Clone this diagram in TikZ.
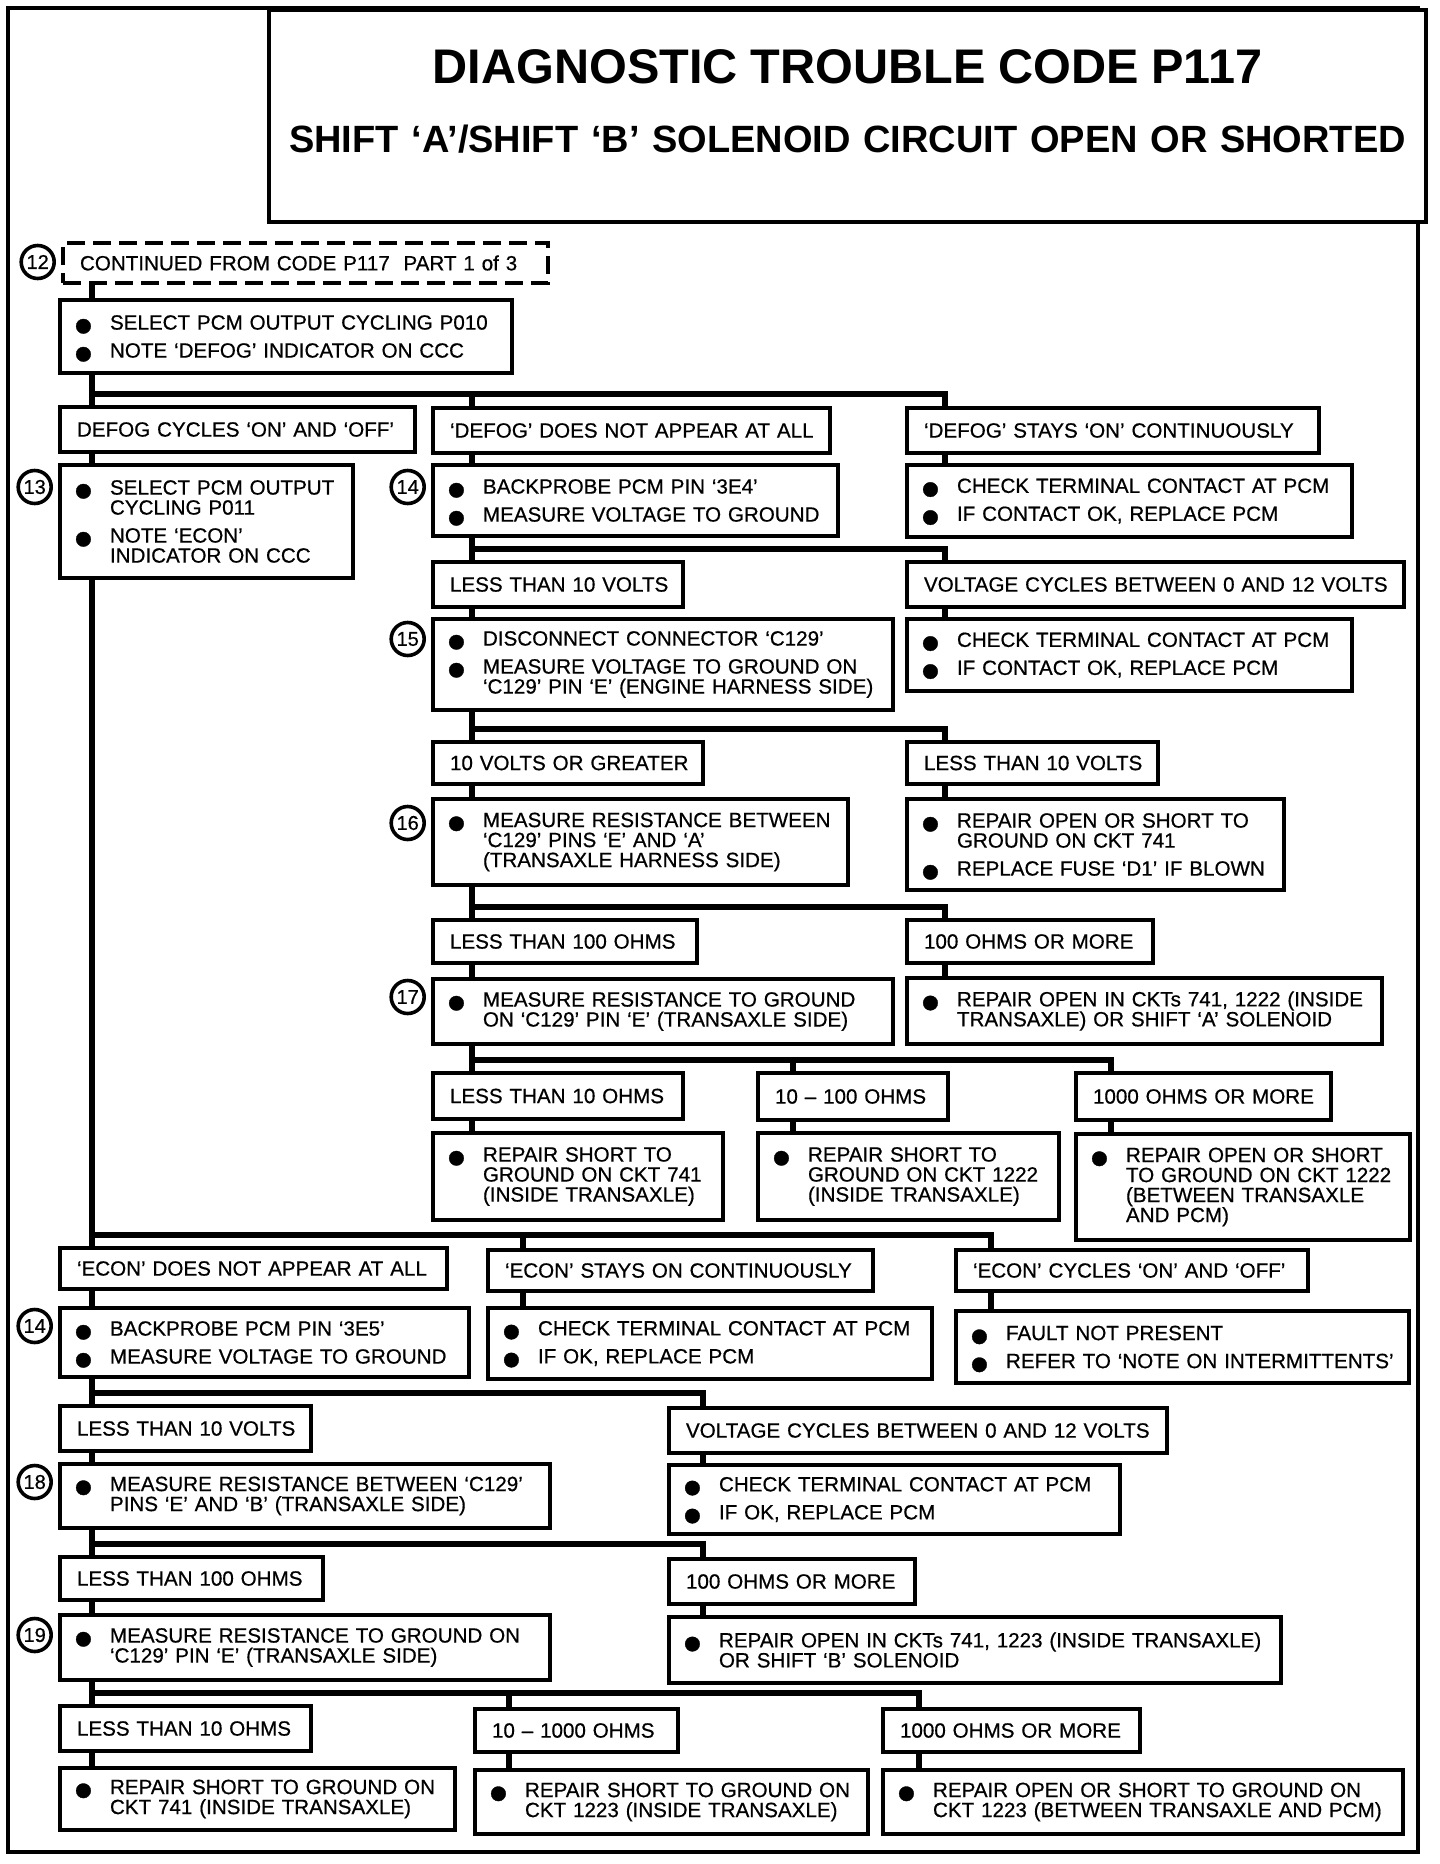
\documentclass[tikz,border=0pt]{standalone}
\usepackage{fontspec}
\setmainfont{Liberation Sans}
\newfontfamily\heavyfont{Liberation Sans}[Ligatures=TeX, FakeBold=0.6]
\usetikzlibrary{
    positioning,
    backgrounds
    }

\newcommand{\itm}[1]{\hspace*{-1.5pt}\makebox[18pt][l]{\smash{\raisebox{-7.3pt}{\fontsize{27}{27}\selectfont\textbullet}}}\mbox{#1}}
\newcommand{\cnt}[1]{\hspace*{16.5pt}\mbox{#1}}
\newcommand{\lab}[1]{\mbox{#1}}

\begin{document}
\begin{tikzpicture}[x=0.5pt, y=-0.5pt]
\tikzset{frame/.style =
        {
            line width=2pt
        }
}

\tikzset{box/.style =
        {
            draw,
            line width=2pt,
            fill=white,
            anchor=north west,
            outer sep=0pt,
            inner xsep=8.5pt,
            inner ysep=0pt,
            align=left,
            font=\heavyfont\fontsize{10.3}{10}\selectfont
        }
}

\tikzset{sz/.style 2 args =
        {
            minimum width=#1,
            minimum height=#2,
            text width=#1-17pt
        }
}

\tikzset{dbox/.style =
        {
            box,
            dash pattern=on 9pt off 4pt
        }
}

\tikzset{titlebox/.style =
        {
            draw,
            line width=2.2pt,
            fill=white,
            anchor=north west,
            outer sep=0pt,
            inner xsep=9.25pt,
            inner ysep=0pt,
            align=center,
            font=\bfseries\fontsize{19}{20}\selectfont
        }
}

\tikzset{stepno/.style =
        {
            shape=circle,
            draw,
            line width=1.8pt,
            minimum size=16.5pt,
            inner sep=0pt,
            font=\heavyfont\fontsize{10}{10}\selectfont
        }
}

\tikzset{link/.style =
        {
            line width=2.6pt
        }
}

\useasboundingbox (0,0) rectangle (1440,1864);
\draw[frame] (8,8) rectangle (1418,1852);

\node[titlebox, minimum width=578.5pt, minimum height=106pt, text width=560pt,
    text height=36.5pt, text depth=69.5pt] (title) at (269,10)
    {{\fontsize{24.3}{20}\selectfont DIAGNOSTIC TROUBLE CODE P117}\\[14.5pt]
    SHIFT `A'/SHIFT `B' SOLENOID CIRCUIT OPEN OR SHORTED};

\node[dbox, sz={242.5pt}{20pt}] (c12) at (63,243) {\lab{CONTINUED FROM CODE P117\ \ PART 1 of 3}};
\node[box, sz={226pt}{36.5pt}] (s1) at (60,300)
    {\itm{SELECT PCM OUTPUT CYCLING P010}\\[4pt]\itm{NOTE `DEFOG' INDICATOR ON CCC}};

\node[box, sz={177.5pt}{22.5pt}] (cyc) at (60,407) {\lab{DEFOG CYCLES `ON' AND `OFF'}};
\node[box, sz={198.5pt}{22.5pt}] (defogno) at (433,408) {\lab{`DEFOG' DOES NOT APPEAR AT ALL}};
\node[box, sz={206pt}{22.5pt}] (defogon) at (907,408) {\lab{`DEFOG' STAYS `ON' CONTINUOUSLY}};

\node[box, sz={146.5pt}{56.5pt}] (s13) at (60,465)
    {\itm{SELECT PCM OUTPUT}\\\cnt{CYCLING P011}\\[4pt]\itm{NOTE `ECON'}\\\cnt{INDICATOR ON CCC}};
\node[box, sz={202.5pt}{35.5pt}] (s14) at (433,465)
    {\itm{BACKPROBE PCM PIN `3E4'}\\[4pt]\itm{MEASURE VOLTAGE TO GROUND}};
\node[box, sz={222.5pt}{36pt}] (chk1) at (907,465)
    {\itm{CHECK TERMINAL CONTACT AT PCM}\\[4pt]\itm{IF CONTACT OK, REPLACE PCM}};

\node[box, sz={125pt}{22.5pt}] (lt10v) at (433,562) {\lab{LESS THAN 10 VOLTS}};
\node[box, sz={248.5pt}{22.5pt}] (vcyc) at (907,562) {\lab{VOLTAGE CYCLES BETWEEN 0 AND 12 VOLTS}};

\node[box, sz={230pt}{45.5pt}] (s15) at (433,619)
    {\itm{DISCONNECT CONNECTOR `C129'}\\[4pt]\itm{MEASURE VOLTAGE TO GROUND ON}\\\cnt{`C129' PIN `E' (ENGINE HARNESS SIDE)}};
\node[box, sz={222.5pt}{36pt}] (chk2) at (907,619)
    {\itm{CHECK TERMINAL CONTACT AT PCM}\\[4pt]\itm{IF CONTACT OK, REPLACE PCM}};

\node[box, sz={135pt}{21pt}] (ge10v) at (433,742) {\lab{10 VOLTS OR GREATER}};
\node[box, sz={125.5pt}{21pt}] (lt10v2) at (907,742) {\lab{LESS THAN 10 VOLTS}};

\node[box, sz={207.5pt}{43pt}] (s16) at (433,799)
    {\itm{MEASURE RESISTANCE BETWEEN}\\\cnt{`C129' PINS `E' AND `A'}\\\cnt{(TRANSAXLE HARNESS SIDE)}};
\node[box, sz={188.5pt}{45.5pt}] (rep1) at (907,799)
    {\itm{REPAIR OPEN OR SHORT TO}\\\cnt{GROUND ON CKT 741}\\[4pt]\itm{REPLACE FUSE `D1' IF BLOWN}};

\node[box, sz={132pt}{21.5pt}] (lt100) at (433,920) {\lab{LESS THAN 100 OHMS}};
\node[box, sz={123pt}{21.5pt}] (ge100) at (907,920) {\lab{100 OHMS OR MORE}};

\node[box, sz={230pt}{32.5pt}] (s17) at (433,979)
    {\itm{MEASURE RESISTANCE TO GROUND}\\\cnt{ON `C129' PIN `E' (TRANSAXLE SIDE)}};
\node[box, sz={237.5pt}{33pt}] (rep2) at (907,978)
    {\itm{REPAIR OPEN IN CKTs 741, 1222 (INSIDE}\\\cnt{TRANSAXLE) OR SHIFT `A' SOLENOID}};

\node[box, sz={125pt}{23pt}] (lt10o) at (433,1073) {\lab{LESS THAN 10 OHMS}};
\node[box, sz={95pt}{23.5pt}] (o10100) at (758,1073) {\lab{10 -- 100 OHMS}};
\node[box, sz={127.5pt}{23.5pt}] (ge1000) at (1076,1073) {\lab{1000 OHMS OR MORE}};

\node[box, sz={145pt}{43.5pt}] (rep741) at (433,1133)
    {\itm{REPAIR SHORT TO}\\\cnt{GROUND ON CKT 741}\\\cnt{(INSIDE TRANSAXLE)}};
\node[box, sz={150.5pt}{43.5pt}] (rep1222) at (758,1133)
    {\itm{REPAIR SHORT TO}\\\cnt{GROUND ON CKT 1222}\\\cnt{(INSIDE TRANSAXLE)}};
\node[box, sz={167pt}{53pt}] (rep1222b) at (1076,1134)
    {\itm{REPAIR OPEN OR SHORT}\\\cnt{TO GROUND ON CKT 1222}\\\cnt{(BETWEEN TRANSAXLE}\\\cnt{AND PCM)}};

\node[box, sz={193.5pt}{20.5pt}] (econno) at (60,1248) {\lab{`ECON' DOES NOT APPEAR AT ALL}};
\node[box, sz={192.5pt}{20.5pt}] (econon) at (488,1250) {\lab{`ECON' STAYS ON CONTINUOUSLY}};
\node[box, sz={176pt}{20.5pt}] (econcyc) at (956,1250) {\lab{`ECON' CYCLES `ON' AND `OFF'}};

\node[box, sz={204.5pt}{34.5pt}] (s14b) at (60,1308)
    {\itm{BACKPROBE PCM PIN `3E5'}\\[4pt]\itm{MEASURE VOLTAGE TO GROUND}};
\node[box, sz={222pt}{35.5pt}] (chk3) at (488,1308)
    {\itm{CHECK TERMINAL CONTACT AT PCM}\\[4pt]\itm{IF OK, REPLACE PCM}};
\node[box, sz={226.5pt}{36pt}] (fault) at (956,1311)
    {\itm{FAULT NOT PRESENT}\\[4pt]\itm{REFER TO `NOTE ON INTERMITTENTS'}};

\node[box, sz={125.5pt}{22.5pt}] (lt10vb) at (60,1406) {\lab{LESS THAN 10 VOLTS}};
\node[box, sz={249pt}{22.5pt}] (vcycb) at (669,1408) {\lab{VOLTAGE CYCLES BETWEEN 0 AND 12 VOLTS}};

\node[box, sz={245pt}{32pt}] (s18) at (60,1464)
    {\itm{MEASURE RESISTANCE BETWEEN `C129'}\\\cnt{PINS `E' AND `B' (TRANSAXLE SIDE)}};
\node[box, sz={225.5pt}{34.5pt}] (chk4) at (669,1465)
    {\itm{CHECK TERMINAL CONTACT AT PCM}\\[4pt]\itm{IF OK, REPLACE PCM}};

\node[box, sz={131.5pt}{21.5pt}] (lt100b) at (60,1557) {\lab{LESS THAN 100 OHMS}};
\node[box, sz={123pt}{22.5pt}] (ge100b) at (669,1559) {\lab{100 OHMS OR MORE}};

\node[box, sz={245pt}{32.5pt}] (s19) at (60,1615)
    {\itm{MEASURE RESISTANCE TO GROUND ON}\\\cnt{`C129' PIN `E' (TRANSAXLE SIDE)}};
\node[box, sz={306pt}{33pt}] (rep3) at (669,1617)
    {\itm{REPAIR OPEN IN CKTs 741, 1223 (INSIDE TRANSAXLE)}\\\cnt{OR SHIFT `B' SOLENOID}};

\node[box, sz={125.5pt}{22.5pt}] (lt10ob) at (60,1706) {\lab{LESS THAN 10 OHMS}};
\node[box, sz={101.5pt}{21.5pt}] (o101000) at (475,1709) {\lab{10 -- 1000 OHMS}};
\node[box, sz={128.5pt}{21.5pt}] (ge1000b) at (883,1709) {\lab{1000 OHMS OR MORE}};

\node[box, sz={197.5pt}{31pt}] (rep741b) at (60,1768)
    {\itm{REPAIR SHORT TO GROUND ON}\\\cnt{CKT 741 (INSIDE TRANSAXLE)}};
\node[box, sz={196.5pt}{32pt}] (rep1223) at (475,1770)
    {\itm{REPAIR SHORT TO GROUND ON}\\\cnt{CKT 1223 (INSIDE TRANSAXLE)}};
\node[box, sz={260pt}{32pt}] (rep1223b) at (883,1770)
    {\itm{REPAIR OPEN OR SHORT TO GROUND ON}\\\cnt{CKT 1223 (BETWEEN TRANSAXLE AND PCM)}};

\node[stepno, left=3.5pt of c12.north west, yshift=-9.5pt] (n12) {12};
\node[stepno, left=3.5pt of s13.north west, yshift=-11pt] (n13) {13};
\node[stepno, left=3.5pt of s14.north west, yshift=-11pt] (n14) {14};
\node[stepno, left=3.5pt of s15.north west, yshift=-10pt] (n15) {15};
\node[stepno, left=3.5pt of s16.north west, yshift=-12pt] (n16) {16};
\node[stepno, left=3.5pt of s17.north west, yshift=-9pt] (n17) {17};
\node[stepno, left=3.5pt of s14b.north west, yshift=-9pt] (n14b) {14};
\node[stepno, left=3.5pt of s18.north west, yshift=-9pt] (n18) {18};
\node[stepno, left=3.5pt of s19.north west, yshift=-10pt] (n19) {19};

\foreach \n / \d in
    {s1/16, cyc/16, s13/16, econno/16, s14b/16, lt10vb/16, s18/16, lt100b/16, s19/16, lt10ob/16, rep741b/16,
        defogno/19.5, s14/19.5, lt10v/19.5, s15/19.5, ge10v/19.5, s16/19.5, lt100/19.5, s17/19.5, lt10o/19.5, rep741/19.5,
        defogon/19, chk1/19, vcyc/19, chk2/19, lt10v2/19, rep1/19, ge100/19, rep2/19,
        o10100/17.5, rep1222/17.5, ge1000/17.5, rep1222b/17.5, econon/17.5, chk3/17.5, econcyc/17.5, fault/17.5,
        vcycb/17, chk4/17, ge100b/17, rep3/17, o101000/17, rep1223/17, ge1000b/18, rep1223b/18}
    \coordinate (\n-in) at ([xshift=\d pt]\n.north west);

\begin{scope}[on background layer]
    \foreach \p / \c in
        {c12/s1, s1/cyc, cyc/s13, s13/econno,
            defogno/s14, s14/lt10v, lt10v/s15, s15/ge10v, ge10v/s16, s16/lt100, lt100/s17, s17/lt10o, lt10o/rep741,
            o10100/rep1222, ge1000/rep1222b,
            defogon/chk1, vcyc/chk2, lt10v2/rep1, ge100/rep2,
            econno/s14b, s14b/lt10vb, lt10vb/s18, s18/lt100b, lt100b/s19, s19/lt10ob, lt10ob/rep741b,
            o101000/rep1223, ge1000b/rep1223b,
            econon/chk3, econcyc/fault, vcycb/chk4, ge100b/rep3}
        \draw[link] (\p.south -| \c-in) -- (\c-in);

    \foreach \a / \b in
        {cyc/defogno, cyc/defogon, lt10v/vcyc, ge10v/lt10v2, lt100/ge100,
            lt10o/o10100, lt10o/ge1000, econno/econon, econno/econcyc,
            lt10vb/vcycb, lt100b/ge100b, lt10ob/o101000, lt10ob/ge1000b}
        \draw[link] ([yshift=6.5pt]\a-in) -| (\b-in);
\end{scope}

\end{tikzpicture}
\end{document}
